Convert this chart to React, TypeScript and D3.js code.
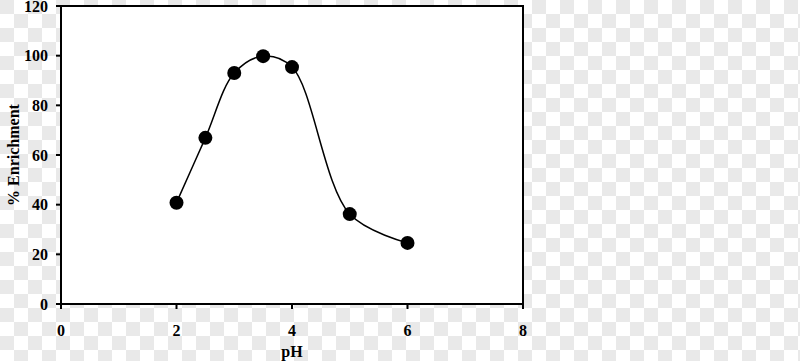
import React from "react";
import * as d3 from "d3";

const pH = [2, 2.5, 3, 3.5, 4, 5, 6];
const enrichment = [40.8, 66.9, 93, 99.8, 95.4, 36.2, 24.6];
const xTicks = [0, 2, 4, 6, 8];
const yTicks = [0, 20, 40, 60, 80, 100, 120];

const W = 800;
const H = 361;
const CELL = 14;

export default function App() {
  const x = d3.scaleLinear().domain([0, 8]).range([61, 523]);
  const y = d3.scaleLinear().domain([0, 120]).range([304, 6]);
  const pts: [number, number][] = pH.map((v, i) => [x(v), y(enrichment[i])]);
  const line = d3.line().curve(d3.curveCatmullRom.alpha(0.5))(pts) || "";
  const font = "'Liberation Serif', 'Times New Roman', serif";

  const cols = Math.ceil(W / CELL);
  const rows = Math.ceil(H / CELL);
  const cells: any[] = [];
  for (let r = 0; r < rows; r++) {
    for (let c = 0; c < cols; c++) {
      if ((r + c) % 2 === 0) {
        cells.push(
          <rect key={`${r}-${c}`} x={c * CELL} y={r * CELL} width={CELL} height={CELL} fill="#e9e9e9" />
        );
      }
    }
  }

  return (
    <svg
      width={W}
      height={H}
      style={{ position: "absolute", left: 0, top: 0, display: "block" }}
    >
      <rect x={0} y={0} width={W} height={H} fill="#ffffff" />
      <g>{cells}</g>
      <rect x={x(0)} y={y(120)} width={x(8) - x(0)} height={y(0) - y(120)} fill="#ffffff" stroke="#000" strokeWidth={2} />
      {yTicks.map((t) => (
        <g key={`y${t}`}>
          <line x1={x(0) - 5} x2={x(0)} y1={y(t)} y2={y(t)} stroke="#000" strokeWidth={2} />
          <text x={48} y={y(t)} dy="0.35em" textAnchor="end" fontFamily={font} fontWeight="bold" fontSize={16}>
            {t}
          </text>
        </g>
      ))}
      {xTicks.map((t) => (
        <g key={`x${t}`}>
          <line x1={x(t)} x2={x(t)} y1={y(0)} y2={y(0) + 5} stroke="#000" strokeWidth={2} />
          <text x={x(t)} y={336} textAnchor="middle" fontFamily={font} fontWeight="bold" fontSize={16}>
            {t}
          </text>
        </g>
      ))}
      <text x={x(4)} y={357} textAnchor="middle" fontFamily={font} fontWeight="bold" fontSize={16}>
        pH
      </text>
      <text
        transform={`translate(19, ${(y(0) + y(120)) / 2}) rotate(-90)`}
        textAnchor="middle"
        fontFamily={font}
        fontWeight="bold"
        fontSize={16}
      >
        % Enrichment
      </text>
      <path d={line} fill="none" stroke="#000" strokeWidth={1.5} />
      {pts.map(([px, py], i) => (
        <circle key={i} cx={px} cy={py} r={7} fill="#000" />
      ))}
    </svg>
  );
}
